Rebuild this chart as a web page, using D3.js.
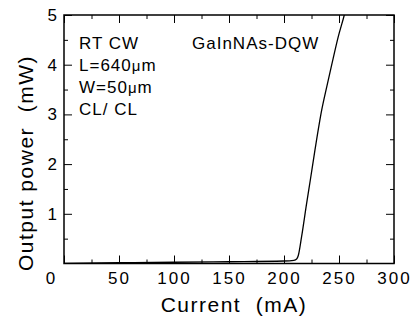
<!DOCTYPE html>
<html>
<head>
<meta charset="utf-8">
<script src="https://cdn.jsdelivr.net/npm/d3@7"></script>
<style>
  html, body { margin: 0; padding: 0; background: #fff; }
  svg { display: block; font-family: "Liberation Sans", Arial, sans-serif; }
  text { white-space: pre; }
</style>
</head>
<body>
<svg id="chart" width="412" height="320"></svg>
<script>
// ---- data ----
const current = [0, 50, 100, 150, 200, 209, 211.5, 213, 216, 220.5, 224, 228.2, 234.3, 238.8, 243.4, 249.4, 254.8, 257];
const power   = [0, 0.015, 0.025, 0.035, 0.05, 0.065, 0.09, 0.16, 0.54, 1.2, 1.69, 2.29, 3.09, 3.55, 4.0, 4.57, 5.0, 5.2];
const xMajorTicks = [0, 50, 100, 150, 200, 250, 300];
const xMinorTicks = [25, 75, 125, 175, 225, 275];
const yMajorTicks = [1, 2, 3, 4, 5];
const yMinorTicks = [0.5, 1.5, 2.5, 3.5, 4.5];
const annotationLines = ["RT CW", "L=640|μ|m", "W=50|μ|m", "CL/ CL"];
const deviceLabel = "GaInNAs-DQW";
const xTitle = "Current  (mA)";
const yTitle = "Output power  (mW)";

// ---- layout ----
const svg = d3.select("#chart");
const L = 64, R = 394, T = 15, B = 263.5;
const x = d3.scaleLinear().domain([0, 300]).range([L, R]);
const y = d3.scaleLinear().domain([0, 5]).range([B, T]);

svg.append("rect").attr("width", 412).attr("height", 320).attr("fill", "#fff");

svg.append("clipPath").attr("id", "clip")
  .append("rect").attr("x", L).attr("y", T).attr("width", R - L).attr("height", B - T);

function styleAxis(g) {
  g.select(".domain").remove();
  g.selectAll(".tick line").attr("stroke", "#000").attr("stroke-width", 1);
  g.selectAll("text").attr("fill", "#000").attr("font-size", 17)
    .attr("font-family", "'Liberation Sans', Arial, sans-serif")
    .attr("letter-spacing", 2);
}

// bottom major
const gxB = svg.append("g").attr("transform", `translate(0,${B})`)
  .call(d3.axisBottom(x).tickValues(xMajorTicks).tickSizeInner(-8).tickSizeOuter(0).tickPadding(8).tickFormat(d3.format("d")));
styleAxis(gxB);
gxB.selectAll(".tick").filter(d => d === 0).select("text").attr("dx", -13);
// bottom minor
const gxBm = svg.append("g").attr("transform", `translate(0,${B})`)
  .call(d3.axisBottom(x).tickValues(xMinorTicks).tickSizeInner(-4).tickSizeOuter(0).tickFormat(""));
styleAxis(gxBm);
// top major/minor
const gxT = svg.append("g").attr("transform", `translate(0,${T})`)
  .call(d3.axisTop(x).tickValues(xMajorTicks).tickSizeInner(-8).tickSizeOuter(0).tickFormat(""));
styleAxis(gxT);
const gxTm = svg.append("g").attr("transform", `translate(0,${T})`)
  .call(d3.axisTop(x).tickValues(xMinorTicks).tickSizeInner(-4).tickSizeOuter(0).tickFormat(""));
styleAxis(gxTm);

// left major
const gyL = svg.append("g").attr("transform", `translate(${L},0)`)
  .call(d3.axisLeft(y).tickValues(yMajorTicks).tickSizeInner(-8).tickSizeOuter(0).tickPadding(7).tickFormat(d3.format("d")));
styleAxis(gyL);
gyL.selectAll("text").attr("letter-spacing", 0);
const gyLm = svg.append("g").attr("transform", `translate(${L},0)`)
  .call(d3.axisLeft(y).tickValues(yMinorTicks).tickSizeInner(-4).tickSizeOuter(0).tickFormat(""));
styleAxis(gyLm);
// right
const gyR = svg.append("g").attr("transform", `translate(${R},0)`)
  .call(d3.axisRight(y).tickValues(yMajorTicks).tickSizeInner(-8).tickSizeOuter(0).tickFormat(""));
styleAxis(gyR);
const gyRm = svg.append("g").attr("transform", `translate(${R},0)`)
  .call(d3.axisRight(y).tickValues(yMinorTicks).tickSizeInner(-4).tickSizeOuter(0).tickFormat(""));
styleAxis(gyRm);

// frame
svg.append("rect").attr("x", L).attr("y", T).attr("width", R - L).attr("height", B - T)
  .attr("fill", "none").attr("stroke", "#000").attr("stroke-width", 1.5);

// curve
const data = current.map((c, i) => ({ c, p: power[i] }));
const line = d3.line().x(d => x(d.c)).y(d => y(d.p)).curve(d3.curveMonotoneX);
svg.append("path").datum(data).attr("d", line).attr("clip-path", "url(#clip)")
  .attr("fill", "none").attr("stroke", "#000").attr("stroke-width", 1.3);

// annotations
const ann = svg.append("g").attr("font-size", 17).attr("letter-spacing", 1).attr("fill", "#000");
annotationLines.forEach((s, i) => {
  const t = ann.append("text").attr("x", 79).attr("y", 49 + i * 22);
  s.split("|").forEach(part => {
    const ts = t.append("tspan").text(part);
    if (part === "μ") ts.attr("font-size", 15);
  });
});
ann.append("text").attr("x", 192).attr("y", 49).text(deviceLabel);

// axis titles
svg.append("text").attr("x", 234).attr("y", 312).attr("text-anchor", "middle")
  .attr("font-size", 21).attr("letter-spacing", 1.5).text(xTitle);
svg.append("text").attr("transform", "translate(33,163) rotate(-90)").attr("text-anchor", "middle")
  .attr("font-size", 21).attr("letter-spacing", 1.5).text(yTitle);
</script>
</body>
</html>
